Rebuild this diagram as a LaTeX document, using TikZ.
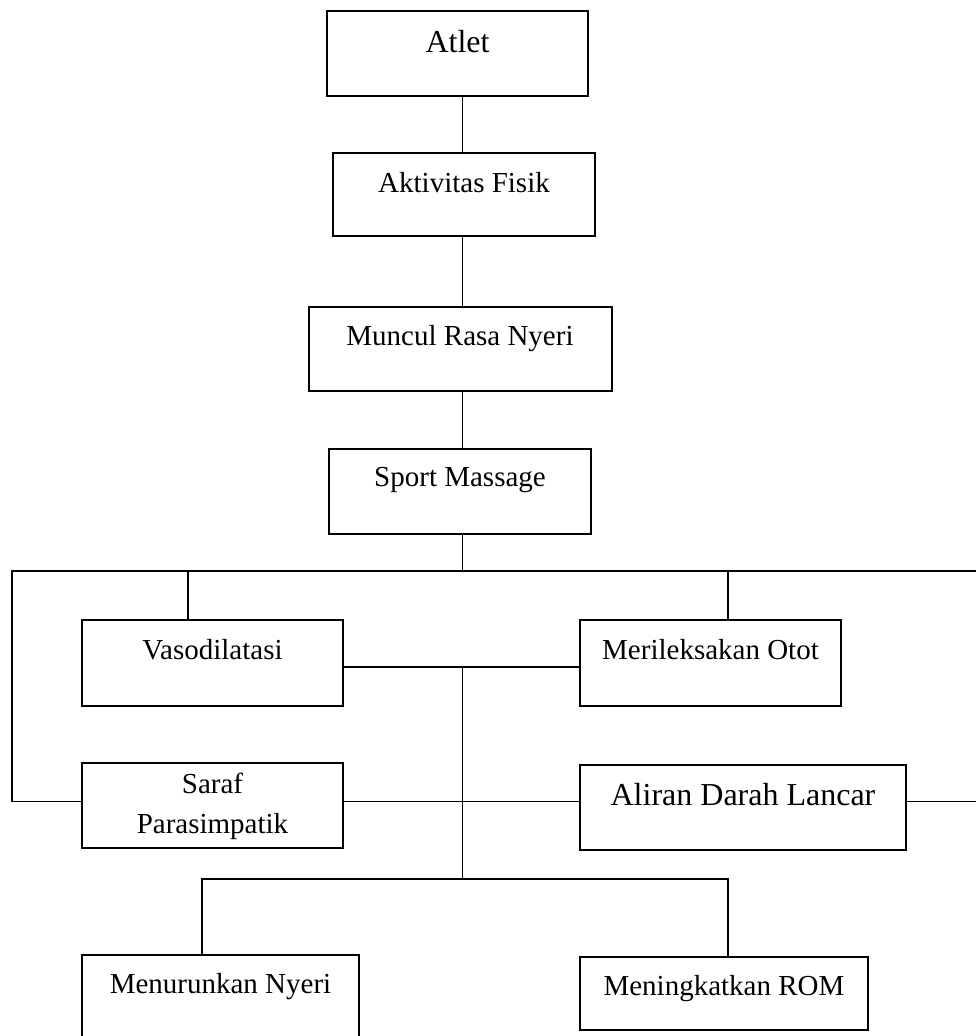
\documentclass[tikz,border=0pt]{standalone}
\usepackage{fontspec}
\setmainfont{Liberation Serif}
\usetikzlibrary{fit}
\begin{document}
\begin{tikzpicture}[x=0.75pt,y=-0.75pt,
  box/.style={draw,line width=1.3pt,rectangle,inner sep=0pt},
  lbl/.style={anchor=base,inner sep=0pt,font=\fontsize{21.75}{30}\selectfont},
  biglbl/.style={anchor=base,inner sep=0pt,font=\fontsize{24}{30}\selectfont},
  conn/.style={line width=1.3pt}]
\useasboundingbox (0,0) rectangle (976,1036);
% boxes
\node[box,fit={(327,11)(588,96)}] (atlet) {};
\node[box,fit={(333,153)(595,236)}] (akt) {};
\node[box,fit={(309,307)(612,391)}] (muncul) {};
\node[box,fit={(329,449)(591,534)}] (sport) {};
\node[box,fit={(82,620)(343,706)}] (vaso) {};
\node[box,fit={(580,620)(841,706)}] (meril) {};
\node[box,fit={(82,763)(343,848)}] (saraf) {};
\node[box,fit={(580,765)(906,850)}] (aliran) {};
\node[box,fit={(82,955)(359,1039)}] (menur) {};
\node[box,fit={(580,957)(868,1030)}] (mening) {};
% texts
\node[biglbl] (atlet-t) at (457.5,52) {Atlet};
\node[lbl] (akt-t) at (464,192) {Aktivitas Fisik};
\node[lbl] (muncul-t) at (460,345) {Muncul Rasa Nyeri};
\node[lbl] (sport-t) at (460,486) {Sport Massage};
\node[lbl] (vaso-t) at (212.5,659) {Vasodilatasi};
\node[lbl] (meril-t) at (710.5,659) {Merileksakan Otot};
\node[lbl] (saraf-t1) at (212.5,793) {Saraf};
\node[lbl] (saraf-t2) at (212.5,833) {Parasimpatik};
\node[biglbl] (aliran-t) at (743,805) {Aliran Darah Lancar};
\node[lbl] (menur-t) at (220.5,993) {Menurunkan Nyeri};
\node[lbl] (mening-t) at (724,995) {Meningkatkan ROM};
% coordinates
\coordinate (cx) at (462.5,0);
\coordinate (bus) at (462.5,571);
\coordinate (busL) at (12,571);
\coordinate (busR) at (976,571);
\coordinate (vt) at (188,571);
\coordinate (mt) at (728,571);
\coordinate (hv) at (462.5,667);
\coordinate (hs) at (462.5,801.5);
\coordinate (rEnd) at (976,801.5);
\coordinate (lb) at (462.5,879);
\coordinate (lbL) at (202,879);
\coordinate (lbR) at (728,879);
% connectors
\draw[conn] (atlet.south -| cx) -- (akt.north -| cx);
\draw[conn] (akt.south -| cx) -- (muncul.north -| cx);
\draw[conn] (muncul.south -| cx) -- (sport.north -| cx);
\draw[conn] (sport.south -| cx) -- (bus);
\draw[conn] (saraf.west |- hs) -| (busL) -- (busR);
\draw[conn] (vt) -- (vt |- vaso.north);
\draw[conn] (mt) -- (mt |- meril.north);
\draw[conn] (vaso.east |- hv) -- (meril.west |- hv);
\draw[conn] (saraf.east |- hs) -- (aliran.west |- hs);
\draw[conn] (aliran.east |- hs) -- (rEnd);
\draw[conn] (hv) -- (lb);
\draw[conn] (lbL |- menur.north) -- (lbL) -- (lbR) -- (lbR |- mening.north);
\end{tikzpicture}
\end{document}
